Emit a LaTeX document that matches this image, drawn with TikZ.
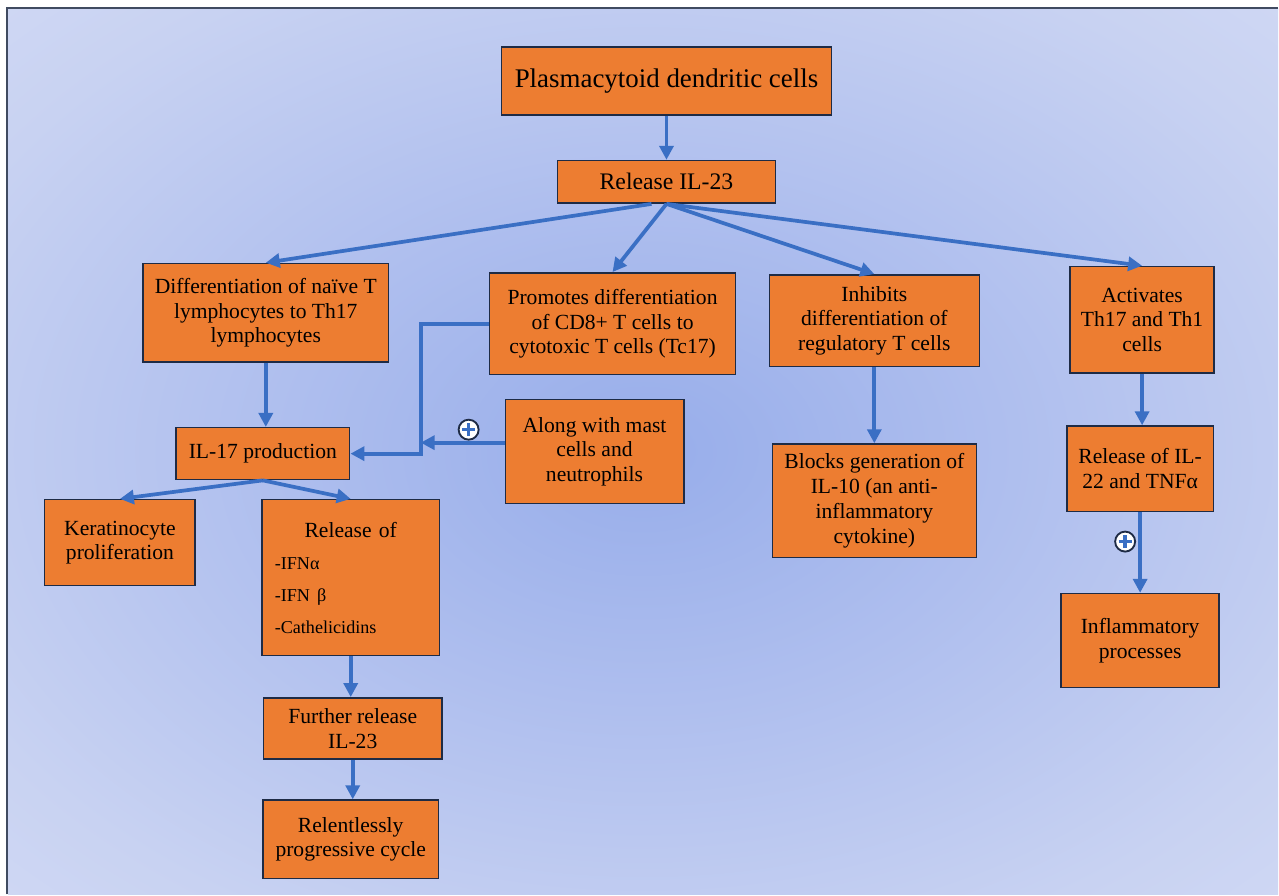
\documentclass[tikz,border=0pt]{standalone}
\usepackage{fontspec}
\setmainfont{Liberation Serif}
\usetikzlibrary{arrows.meta, calc}
\definecolor{bxorange}{HTML}{ED7D31}
\definecolor{bxedge}{HTML}{1E2B45}
\definecolor{arblue}{HTML}{3A6FC4}
\definecolor{bgcore}{HTML}{97ADEA}
\definecolor{bgmid}{HTML}{AEBEEE}
\definecolor{bgrim}{HTML}{C8D2F2}
\definecolor{bgedge}{HTML}{DFE4F6}
\pgfdeclareradialshading{pdcglow}{\pgfpoint{0bp}{0bp}}{color(0bp)=(bgcore); color(14bp)=(bgmid); color(30bp)=(bgrim); color(50bp)=(bgedge); color(72bp)=(bgedge)}

\begin{document}
\begin{tikzpicture}[x=.75pt, y=-.75pt, font=\fontsize{16.2}{18.6}\selectfont,
      box/.style={draw=bxedge, line width=1.1pt, fill=bxorange, align=center, inner sep=3pt},
      arr/.style={-{Triangle[length=10.5pt,width=10.5pt]}, draw=arblue, line width=2.8pt},
      plusmark/.style={circle, draw=bxedge, fill=white, line width=1.4pt, minimum size=15pt, inner sep=0pt,
        path picture={\draw[arblue, line width=2.6pt]
          ($(path picture bounding box.center)+(-4.8pt,0pt)$) -- ($(path picture bounding box.center)+(4.8pt,0pt)$)
          ($(path picture bounding box.center)+(0pt,-4.8pt)$) -- ($(path picture bounding box.center)+(0pt,4.8pt)$);}}]

      % background panel
      \fill[white] (0,0) rectangle (1279,895);
      \shade[shading=pdcglow] (8,9) rectangle (1279,895);
      \draw[bxedge!85, line width=1.5pt] (7,895) -- (7,8) -- (1279,8);

      \node[box, minimum width=248pt, minimum height=51pt, font=\fontsize{20.2}{24}\selectfont] (pdc) at (667,81) {Plasmacytoid dendritic cells};
      \node[box, minimum width=164pt, minimum height=32pt, font=\fontsize{17.8}{21}\selectfont] (rel) at (667,182) {Release IL-23};

      \node[box, minimum width=184.5pt, minimum height=74pt] (diff) at (266,313) {Differentiation of naïve T\\ lymphocytes to Th17\\ lymphocytes};
      \node[box, minimum width=184.5pt, minimum height=76.5pt] (prom) at (613,324) {Promotes differentiation\\ of CD8+ T cells to\\ cytotoxic T cells (Tc17)};
      \node[box, minimum width=157.5pt, minimum height=69pt] (inh) at (875,321) {Inhibits\\ differentiation of\\ regulatory T cells};
      \node[box, minimum width=108pt, minimum height=80pt] (act) at (1143,320) {Activates\\ Th17 and Th1\\ cells};

      \node[box, minimum width=130.5pt, minimum height=39pt] (il17) at (263,454) {IL-17 production};
      \node[box, minimum width=134pt, minimum height=78pt] (along) at (595,452) {Along with mast\\ cells and\\ neutrophils};
      \node[box, minimum width=153pt, minimum height=85pt] (blk) at (875,501) {Blocks generation of\\ IL-10 (an anti-\\ inflammatory\\ cytokine)};
      \node[box, minimum width=110pt, minimum height=64pt] (rel22) at (1141,469) {Release of IL-\\ 22 and TNFα};

      \node[box, minimum width=113pt, minimum height=64.5pt] (kera) at (120,543) {Keratinocyte\\ proliferation};
      \node[box, minimum width=133.5pt, minimum height=117pt, text width=114pt, align=left, inner xsep=9.75pt] (relof) at (351,578)
        {{\centering Release of\par}{\fontsize{13.6}{24}\selectfont -IFNα\\ -IFN β\\ -Cathelicidins\par}};
      \node[box, minimum width=118.5pt, minimum height=70.5pt] (infl) at (1141,641) {Inflammatory\\ processes};
      \node[box, minimum width=134pt, minimum height=46pt] (fur) at (353,729) {Further release\\ IL-23};
      \node[box, minimum width=132pt, minimum height=59pt] (relent) at (351,840) {Relentlessly\\ progressive cycle};

      \coordinate (jn) at (421,454);
      \coordinate (jn2) at (421,443);
      \node[plusmark] (plA) at (469,430) {};
      \node[plusmark] (plB) at (1126,542) {};

      \draw[arr] (pdc) -- (rel);
      \draw[arr] ($(rel.south)+(-15,0)$) -- (diff.north);
      \draw[arr] (rel.south) -- (prom.north);
      \draw[arr] (rel.south) -- (inh.north);
      \draw[arr] (rel.south) -- (act.north);
      \draw[arr] (diff.south) -- (diff.south |- il17.north);
      \draw[arr] (prom.west) -| (jn) -- (il17.east);
      \draw[arr] (along.west |- jn2) -- (jn2);
      \draw[arr] (il17.south) -- (kera.north);
      \draw[arr] (il17.south) -- (relof.north);
      \draw[arr] (inh) -- (blk);
      \draw[arr] (act.south) -- (act.south |- rel22.north);
      \draw[arr] (rel22) -- (infl);
      \draw[arr] (relof.south) -- (relof.south |- fur.north);
      \draw[arr] (fur.south) -- (fur.south |- relent.north);
    \end{tikzpicture}
\end{document}
